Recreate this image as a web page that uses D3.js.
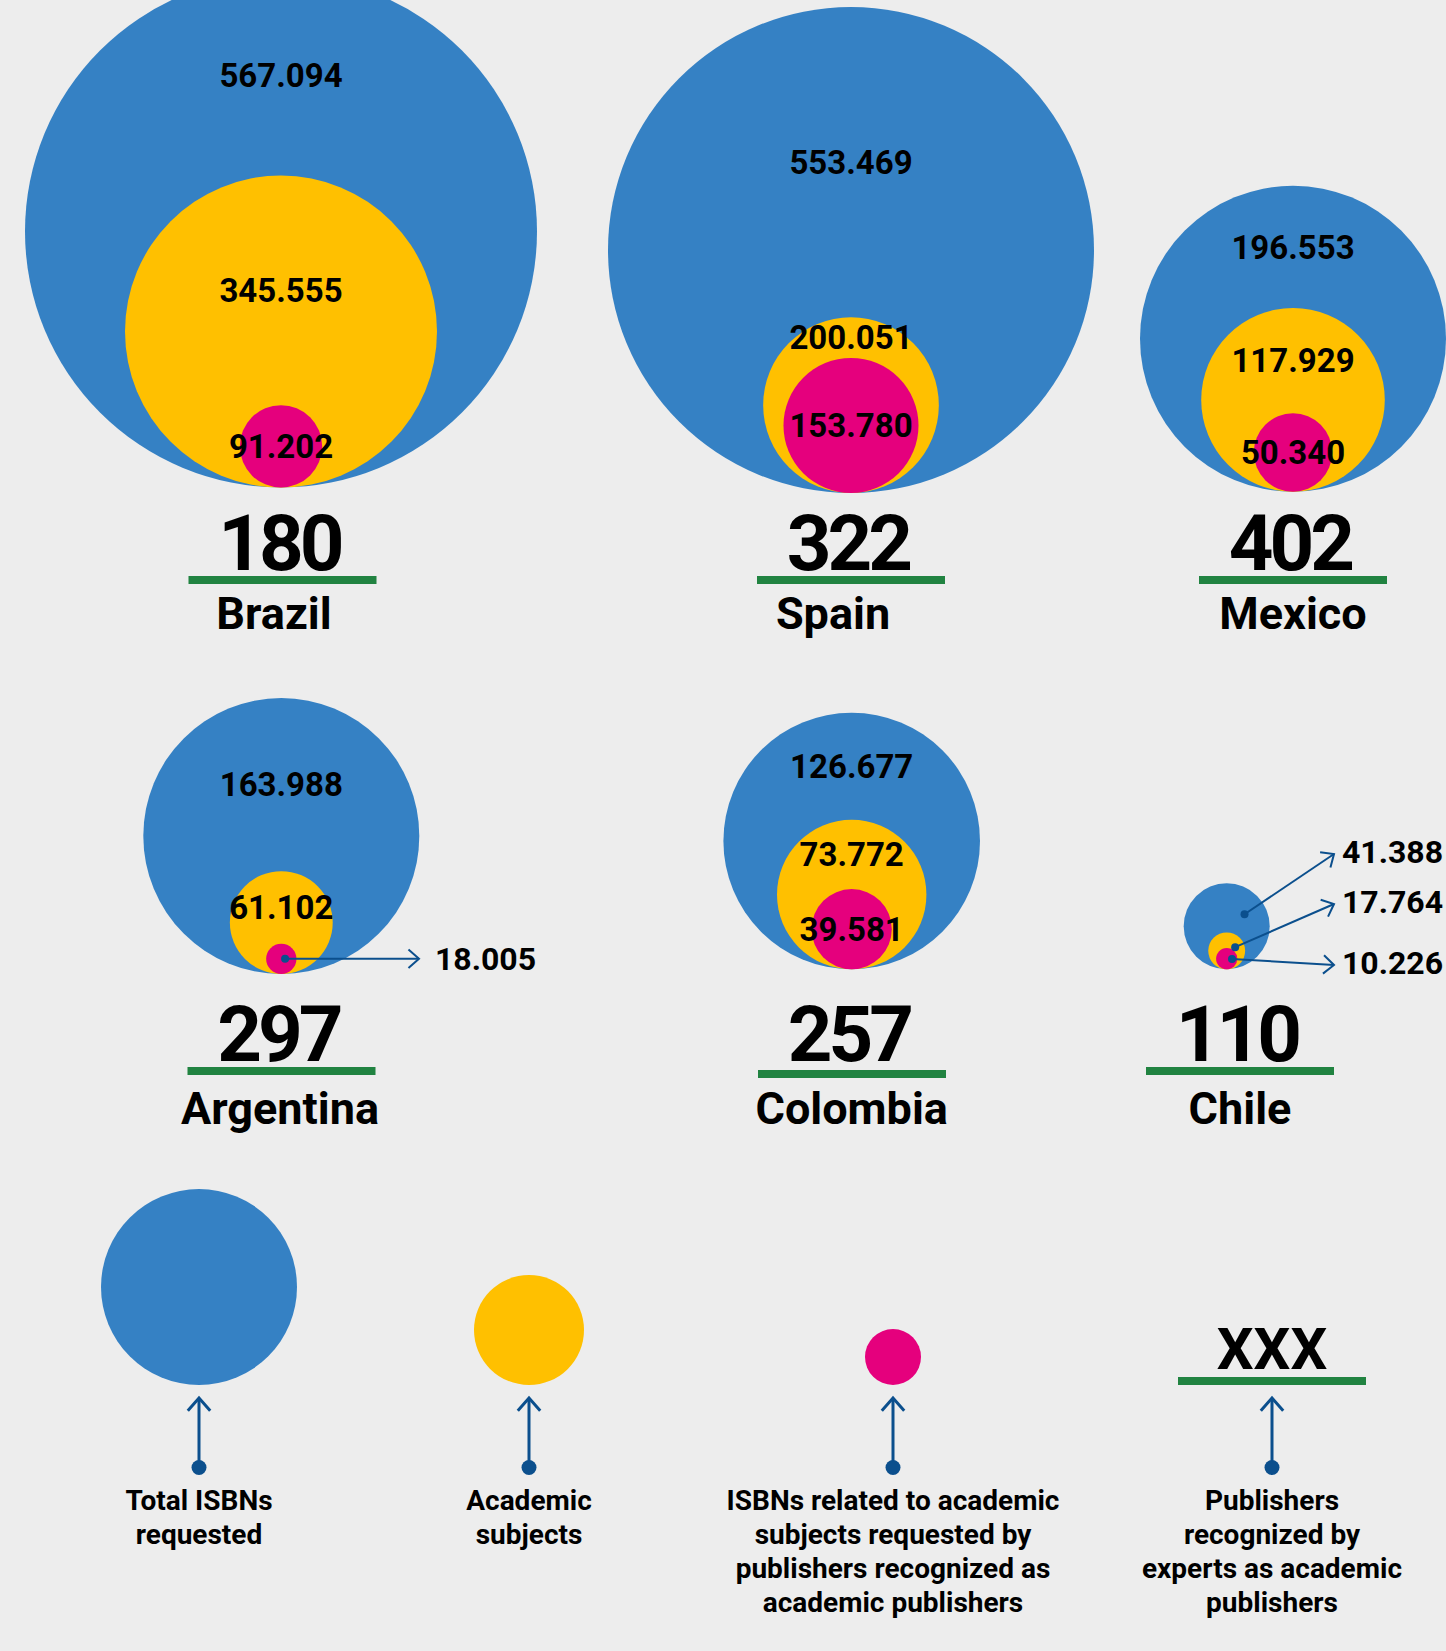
<!DOCTYPE html>
<html>
<head>
<meta charset="utf-8">
<script src="https://cdn.jsdelivr.net/npm/d3@7"></script>
<style>
  html, body { margin: 0; padding: 0; background: #ededed; }
  svg { display: block; }
  text { font-family: Roboto, "Liberation Sans", sans-serif; font-weight: 700; fill: #000; }
</style>
</head>
<body>
<svg id="chart" width="1446" height="1651"></svg>
<script>
// ---------- DATA ----------
const countries = ["Brazil", "Spain", "Mexico", "Argentina", "Colombia", "Chile"];
const totalIsbn = [567094, 553469, 196553, 163988, 126677, 41388];
const academicIsbn = [345555, 200051, 117929, 61102, 73772, 17764];
const academicPublisherIsbn = [91202, 153780, 50340, 18005, 39581, 10226];
const academicPublishers = [180, 322, 402, 297, 257, 110];
const legendLabels = [
  ["Total ISBNs", "requested"],
  ["Academic", "subjects"],
  ["ISBNs related to academic", "subjects requested by", "publishers recognized as", "academic publishers"],
  ["Publishers", "recognized by", "experts as academic", "publishers"]
];
const legendPlaceholder = "XXX";

// ---------- LAYOUT / STYLE ----------
const W = 1446, H = 1651;
const colors = ["#3581c4", "#ffc000", "#e5007d"];
const green = "#218341";
const arrowBlue = "#0b4f8d";

const panelLayout = [
  { cx: 281,    bottom: 487.5, R: 256,   labelX: 282.5, nameX: 274,  row: 0 },
  { cx: 851,    bottom: 493,   R: 243,   labelX: 851,   nameX: 833,  row: 0 },
  { cx: 1293,   bottom: 491.7, R: 153,   labelX: 1293,  nameX: 1293, row: 0 },
  { cx: 281.3,  bottom: 974,   R: 138,   labelX: 281.5, nameX: 280,  row: 1, annotX: 435, annotGap: 16 },
  { cx: 851.7,  bottom: 969.3, R: 128.3, labelX: 852,   nameX: 851.7, row: 1, barDy: 3 },
  { cx: 1226.7, bottom: 969.3, R: 43,    labelX: 1240,  nameX: 1240, row: 1, annotX: 1342, annotGap: 8, annotY: [852, 902, 963] }
];
const rowLayout = [
  { num: 570,    bar: 576,  name: 628.5 },
  { num: 1060.5, bar: 1067, name: 1124 }
];
const legendX = [199, 529, 893, 1272];
const legendSymbolSize = [98, 55, 28];
const legendBase = 1385;

const fmt = d3.formatLocale({ decimal: ",", thousands: ".", grouping: [3], currency: ["", ""] }).format(",d");
const svg = d3.select("#chart");
svg.append("rect").attr("width", W).attr("height", H).attr("fill", "#ededed");

function arrowHead(g, x, y, angle, len, width) {
  const a1 = angle + Math.PI - 0.72, a2 = angle + Math.PI + 0.72;
  const path = d3.path();
  path.moveTo(x + len * Math.cos(a1), y + len * Math.sin(a1));
  path.lineTo(x, y);
  path.lineTo(x + len * Math.cos(a2), y + len * Math.sin(a2));
  g.append("path").attr("d", path.toString())
    .attr("fill", "none").attr("stroke", arrowBlue).attr("stroke-width", width)
    .attr("stroke-linejoin", "miter");
}

const numFont = 33;
countries.forEach((name, i) => {
  const p = panelLayout[i];
  const row = rowLayout[p.row];
  const g = svg.append("g").attr("class", "panel");
  const rScale = d3.scaleLinear().domain([0, totalIsbn[i]]).range([0, p.R]);
  const vals = [totalIsbn[i], academicIsbn[i], academicPublisherIsbn[i]];
  const circ = vals.map((v, k) => {
    const r = rScale(v);
    return { v, k, r, cx: p.cx, cy: p.bottom - r, top: p.bottom - 2 * r };
  });

  g.selectAll("circle.bubble").data(circ).join("circle")
    .attr("class", "bubble")
    .attr("cx", d => d.cx).attr("cy", d => d.cy).attr("r", d => d.r)
    .attr("fill", d => colors[d.k]);

  const allExternal = p.annotY !== undefined;
  circ.forEach((c, k) => {
    const external = allExternal || c.r < 25;
    if (!external) {
      let yc;
      if (k === 0) yc = (c.top + circ[1].top) / 2;
      else if (k === 1) yc = (c.top + circ[2].top) / 2;
      else yc = c.cy;
      g.append("text").attr("x", c.cx).attr("y", yc + numFont * 0.355)
        .attr("text-anchor", "middle").attr("font-size", numFont)
        .text(fmt(c.v));
    } else {
      const ly = allExternal ? p.annotY[k] : c.cy;
      const ex = p.annotX - p.annotGap, ey = allExternal ? ly + 2 : ly;
      const ang = Math.atan2(ey - c.cy, ex - c.cx);
      const f = allExternal ? 0.5 : 0.25;
      const dx = c.cx + f * c.r * Math.cos(ang), dy = c.cy + f * c.r * Math.sin(ang);
      g.append("line").attr("x1", dx).attr("y1", dy).attr("x2", ex).attr("y2", ey)
        .attr("stroke", arrowBlue).attr("stroke-width", 2);
      arrowHead(g, ex, ey, Math.atan2(ey - dy, ex - dx), 14, 2);
      g.append("circle").attr("cx", dx).attr("cy", dy).attr("r", 4).attr("fill", arrowBlue);
      g.append("text").attr("x", p.annotX).attr("y", ly + 32 * 0.355)
        .attr("font-size", 32).text(fmt(c.v));
    }
  });

  // publishers number, bar and country name
  g.append("text").attr("x", p.labelX).attr("y", row.num)
    .attr("text-anchor", "middle").attr("font-size", 78).attr("letter-spacing", -4)
    .attr("dx", -3)
    .text(academicPublishers[i]);
  g.append("rect").attr("x", p.labelX - 94).attr("y", row.bar + (p.barDy || 0))
    .attr("width", 188).attr("height", 8).attr("fill", green);
  g.append("text").attr("x", p.nameX).attr("y", row.name)
    .attr("text-anchor", "middle").attr("font-size", 45).text(name);
});

// ---------- LEGEND ----------
const lg = svg.append("g").attr("class", "legend");
legendSymbolSize.forEach((r, k) => {
  lg.append("circle").attr("cx", legendX[k]).attr("cy", legendBase - r).attr("r", r).attr("fill", colors[k]);
});
lg.append("text").attr("x", legendX[3]).attr("y", 1369).attr("text-anchor", "middle")
  .attr("font-size", 58).text(legendPlaceholder);
lg.append("rect").attr("x", legendX[3] - 94).attr("y", 1377).attr("width", 188).attr("height", 8).attr("fill", green);

legendX.forEach((x, k) => {
  lg.append("line").attr("x1", x).attr("x2", x).attr("y1", 1398).attr("y2", 1467)
    .attr("stroke", arrowBlue).attr("stroke-width", 3);
  arrowHead(lg, x, 1398, -Math.PI / 2, 17, 3);
  lg.append("circle").attr("cx", x).attr("cy", 1467.5).attr("r", 7.5).attr("fill", arrowBlue);
  const t = lg.append("text").attr("text-anchor", "middle").attr("font-size", 28);
  legendLabels[k].forEach((line, j) => {
    t.append("tspan").attr("x", x).attr("y", 1510 + j * 34).text(line);
  });
});
</script>
</body>
</html>
